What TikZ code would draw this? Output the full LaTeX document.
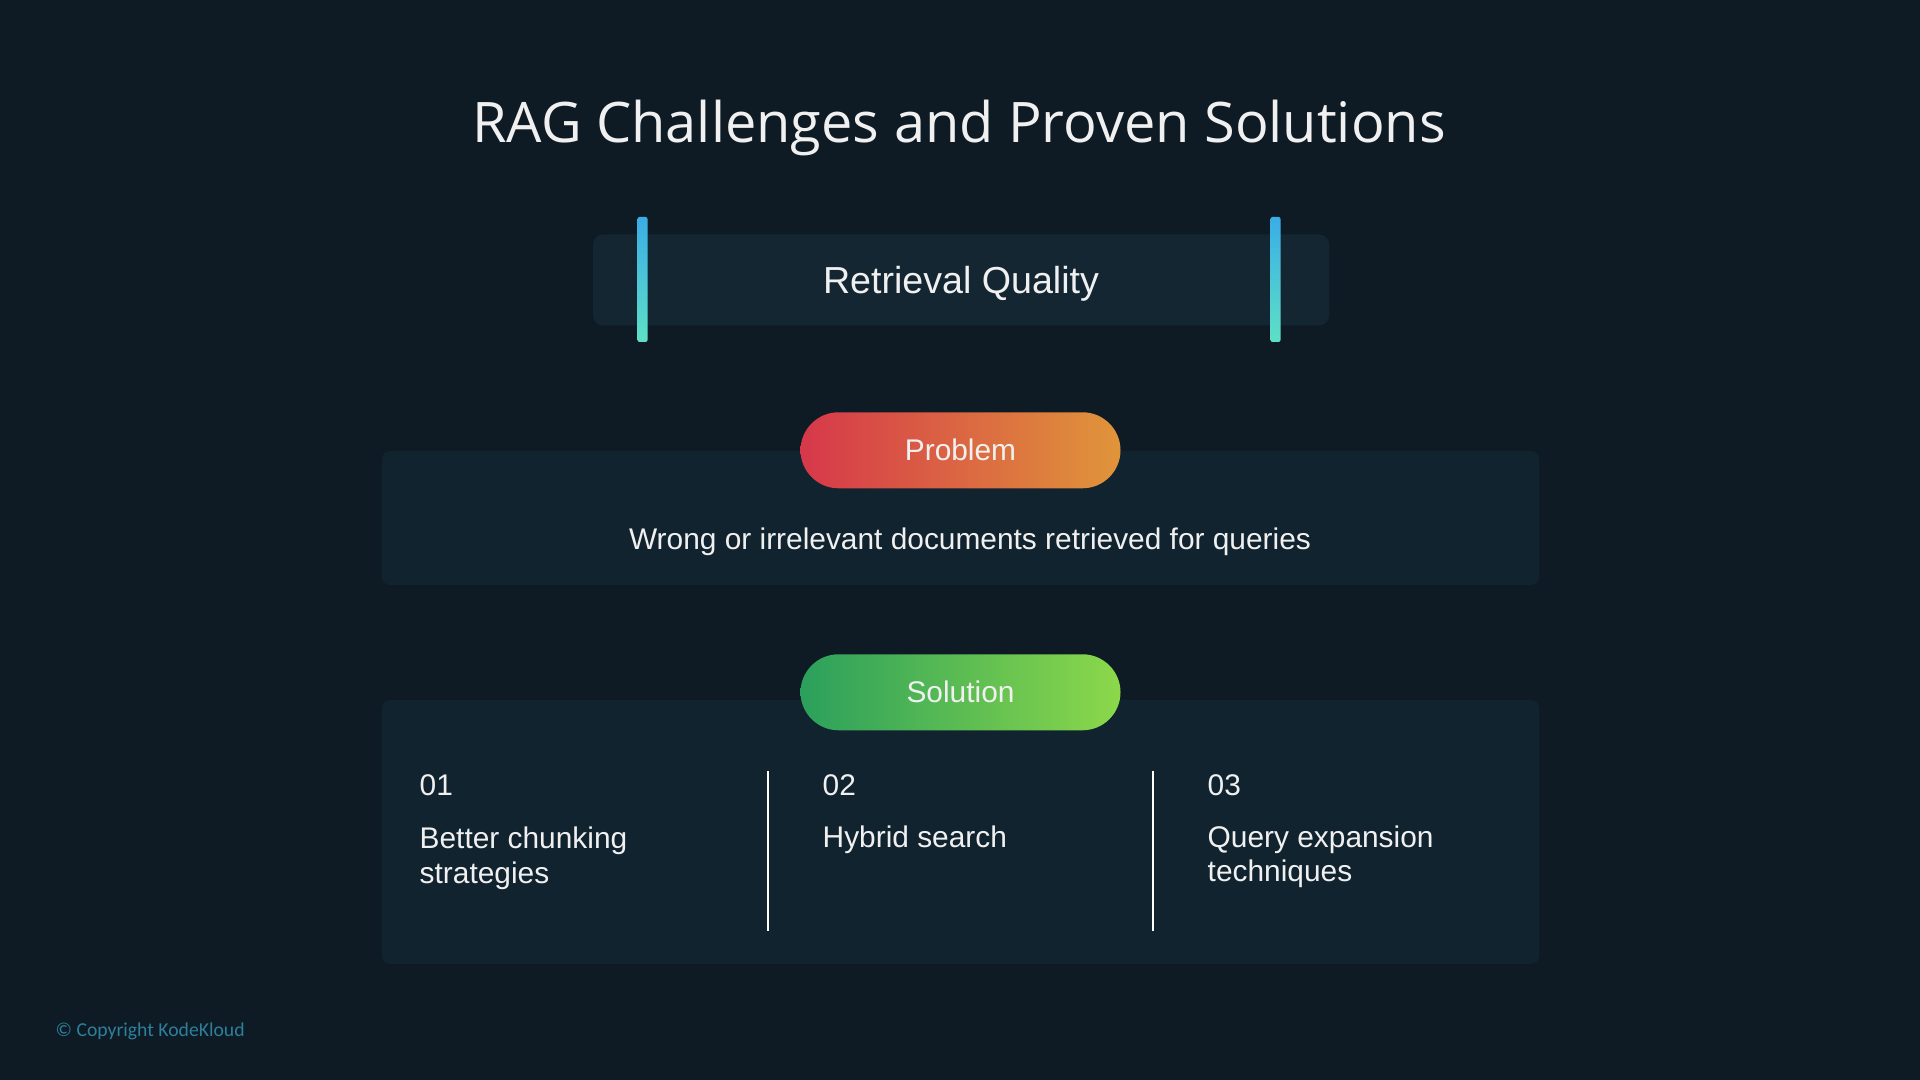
\documentclass[tikz,border=0pt]{standalone}
\usepackage{fontspec}
\setmainfont{Liberation Sans}
\newfontfamily\titlefont{Open Sans}
\newfontfamily\copyfont{Carlito}
\usepackage{tikz}
\usetikzlibrary{positioning}
\definecolor{bgnavy}{HTML}{0E1B24}
\definecolor{boxnavy}{HTML}{11232F}
\definecolor{headnavy}{HTML}{132632}
\definecolor{barblue}{HTML}{3AADE6}
\definecolor{barteal}{HTML}{5EE0C6}
\definecolor{probred}{HTML}{D6384A}
\definecolor{proborange}{HTML}{E0953A}
\definecolor{solgreen}{HTML}{2BA05C}
\definecolor{sollime}{HTML}{8CD84A}
\definecolor{copyblue}{HTML}{2D7F9C}

\begin{document}
\begin{tikzpicture}[font=\fontsize{8.5}{9.8}\selectfont, text=white!94!black,
 panel/.style={fill=boxnavy,rounded corners=0.08cm,minimum width=11.57cm,inner sep=0pt},
 pill/.style={rounded corners=0.38cm,minimum width=3.2cm,minimum height=0.76cm,inner sep=0pt},
 bar/.style={rounded corners=0.02cm,top color=barblue,bottom color=barteal,minimum width=0.1cm,minimum height=1.25cm,inner sep=0pt},
 num/.style={anchor=west,inner sep=0pt},
 item/.style={anchor=north west,align=left,inner sep=0pt}]
\fill[bgnavy] (0,0) rectangle (19.2,10.8);
\useasboundingbox (0,0) rectangle (19.2,10.8);
\node (title) at (9.59,9.52) {\titlefont\fontsize{15.9}{18}\selectfont RAG Challenges and Proven Solutions};
% topic header
\node[fill=headnavy,rounded corners=0.1cm,minimum width=7.36cm,minimum height=0.91cm,inner sep=0pt] (topic) at (9.61,8.0) {};
\node (topictext) at (9.61,7.965) {\fontsize{10.7}{12}\selectfont Retrieval Quality};
\node[bar] (lbar) at (6.425,8.005) {};
\node[bar] (rbar) at (12.755,8.005) {};
% problem
\node[panel,minimum height=1.34cm] (probbox) at (9.605,5.62) {};
\node[pill,left color=probred,right color=proborange] (prob) at (probbox.north) {Problem};
\node (probtext) at (9.70,5.385) {Wrong or irrelevant documents retrieved for queries};
% solution
\node[panel,minimum height=2.64cm] (solbox) at (9.605,2.48) {};
\node[pill,left color=solgreen,right color=sollime,yshift=0.07cm] (sol) at (solbox.north) {Solution};
\draw[white,line width=0.7pt] (7.68,3.09) -- (7.68,1.49);
\draw[white,line width=0.7pt] (11.53,3.09) -- (11.53,1.49);
\node[num] (n1) at (4.19,2.95) {01};
\node[num] (n2) at (8.22,2.95) {02};
\node[num] (n3) at (12.07,2.95) {03};
\node[item] (s1) at (4.19,2.535) {Better chunking\\strategies};
\node[item] (s2) at (8.22,2.545) {Hybrid search};
\node[item] (s3) at (12.07,2.55) {Query expansion\\techniques};
\node[anchor=west,inner sep=0pt,text=copyblue] (copy) at (0.55,0.49) {\copyfont\fontsize{5.6}{6.5}\selectfont \textcopyright{} Copyright KodeKloud};
\end{tikzpicture}
\end{document}
